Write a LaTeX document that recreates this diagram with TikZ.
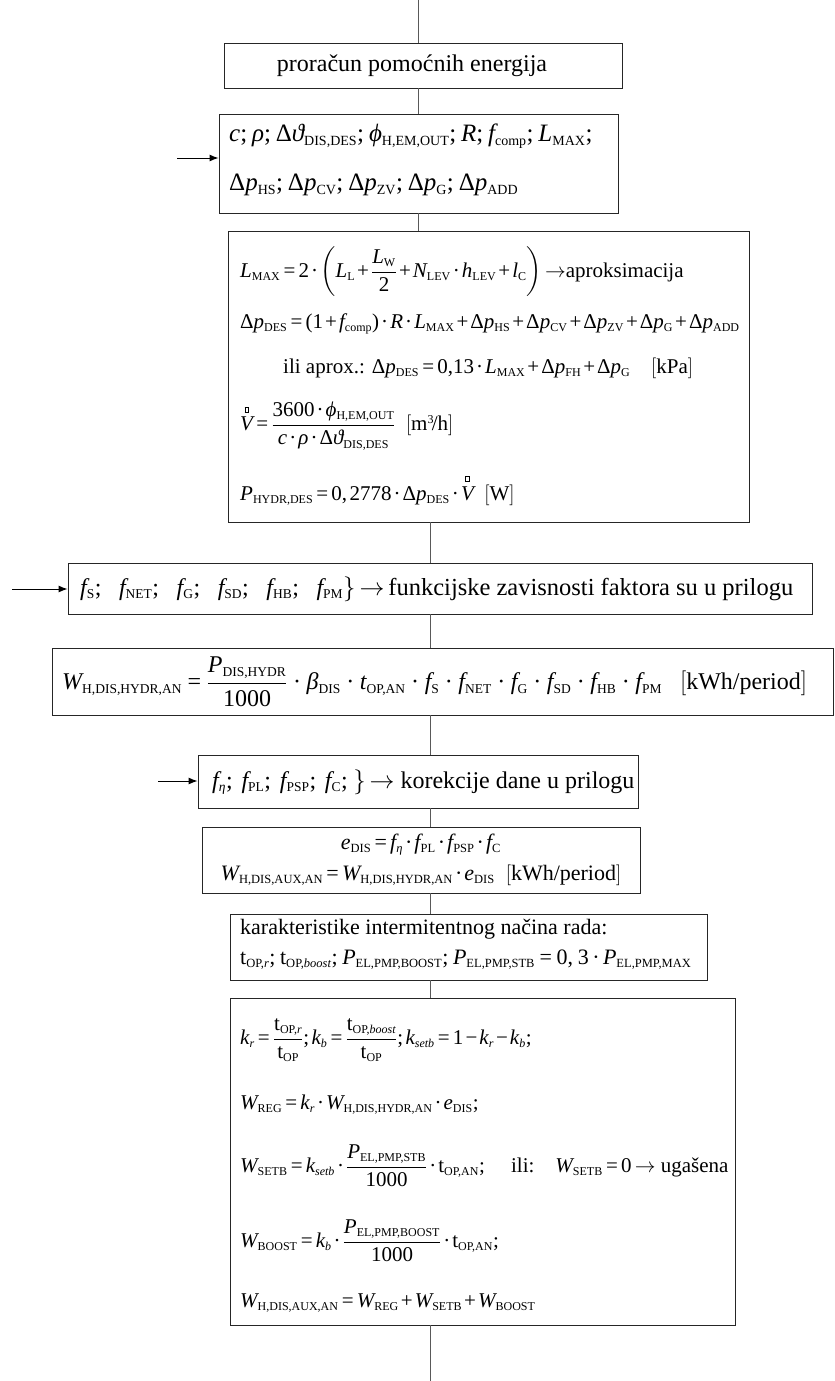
\documentclass[tikz,border=0pt]{standalone}
\usepackage{amsmath}
\usepackage{fontspec}
\setmainfont{Liberation Serif}
\usetikzlibrary{arrows.meta}
\DeclareMathSizes{25}{25}{14}{10}
\DeclareMathSizes{24}{24}{13.5}{10}
\DeclareMathSizes{22}{22}{12.5}{10}
\DeclareMathSizes{21}{21}{12}{9}
\DeclareSymbolFont{tletters}{TU}{\rmdefault}{m}{it}
\DeclareSymbolFont{tup}{TU}{\rmdefault}{m}{n}
\makeatletter
\newcommand{\setmymath}{%
\@tempcnta=`a
\loop\Umathcode\@tempcnta="7 \symtletters \@tempcnta \advance\@tempcnta by 1 \ifnum\@tempcnta<123 \repeat
\@tempcnta=`A
\loop\Umathcode\@tempcnta="7 \symtletters \@tempcnta \advance\@tempcnta by 1 \ifnum\@tempcnta<91 \repeat
\@tempcnta=`0
\loop\Umathcode\@tempcnta="7 \symtup \@tempcnta \advance\@tempcnta by 1 \ifnum\@tempcnta<58 \repeat
\Umathcode`\+="2 \symtup `\+
\Umathcode`\=="3 \symtup `\=
\Umathcode`\-="2 \symtup "2212
\Umathcode`\(="4 \symtup `\(
\Umathcode`\)="5 \symtup `\)
\Umathcode`\;="6 \symtup `\;
\Umathcode`\,="6 \symtup `\,
\Umathcode`\/="0 \symtup `\/
\Umathchardef\cdot="2 \symtup "00B7
\Umathchardef\Delta="0 \symtup "0394
\thinmuskip=2mu
\medmuskip=1.8mu plus 1mu minus 1mu
\thickmuskip=2.8mu plus 2mu
}
\makeatother
\Umathchardef\trho="0 \symtletters "03C1
\Umathchardef\tphi="0 \symtletters "03D5
\Umathchardef\ttheta="0 \symtletters "03D1
\Umathchardef\teta="0 \symtletters "03B7
\Umathchardef\tbeta="0 \symtletters "03B2
\newcommand{\sr}[1]{\text{#1}}
\newcommand{\fE}{\fontsize{25}{30}\selectfont}
\newcommand{\fA}{\fontsize{24}{30}\selectfont}
\newcommand{\fB}{\fontsize{22}{28}\selectfont}
\newcommand{\fC}{\fontsize{21}{26}\selectfont}
\newcommand{\Vbx}{\overset{\raisebox{1pt}{\setlength{\fboxsep}{0pt}\setlength{\fboxrule}{0.3pt}\fbox{\rule{0pt}{5pt}\rule{3.5pt}{0pt}}}}{V}}
\tikzset{
  boxst/.style={draw=black!85, line width=0.9pt, inner sep=0pt},
  txt/.style={inner sep=0pt, anchor=west, font=\fA},
  txte/.style={inner sep=0pt, anchor=west, font=\fE},
  txtb/.style={inner sep=0pt, anchor=west, font=\fB},
  txtc/.style={inner sep=0pt, anchor=west, font=\fC},
  ln/.style={draw=black!65, line width=0.9pt},
  arr/.style={-{Latex[length=9pt,width=7pt]}, line width=1pt}
}
\begin{document}
\setmymath
\begin{tikzpicture}[x=1pt,y=-1pt]
\useasboundingbox[fill=white] (0,0) rectangle (835,1381);
\coordinate (axA) at (418,0);
\coordinate (axB) at (430,0);
\coordinate (bot) at (430,1381);
% boxes
\node[boxst, minimum width=398pt, minimum height=45pt] (b1) at (423,65.5) {};
\node[boxst, minimum width=399pt, minimum height=99pt] (b2) at (418.5,163.5) {};
\node[boxst, minimum width=521pt, minimum height=291pt] (b3) at (488.5,376.5) {};
\node[boxst, minimum width=744pt, minimum height=51pt] (b4) at (440,588.5) {};
\node[boxst, minimum width=781pt, minimum height=67pt] (b5) at (442.5,681.5) {};
\node[boxst, minimum width=440pt, minimum height=53pt] (b6) at (418,781.5) {};
\node[boxst, minimum width=438pt, minimum height=66pt] (b7) at (421,860) {};
\node[boxst, minimum width=477pt, minimum height=66pt] (b8) at (468.5,947) {};
\node[boxst, minimum width=505pt, minimum height=327pt] (b9) at (482.5,1161.5) {};
% texts
\node[txt, anchor=center] (t1) at (412,66) {proračun pomoćnih energija};
\node[txte] (t2a) at (229,136) {\thinmuskip=3.5mu $c;\trho;\Delta\ttheta_{\sr{DIS,DES}};\tphi_{\sr{H,EM,OUT}};R;f_{\sr{comp}};L_{\sr{MAX}};$};
\node[txte] (t2b) at (229,185) {\thinmuskip=3.5mu $\Delta p_{\sr{HS}};\Delta p_{\sr{CV}};\Delta p_{\sr{ZV}};\Delta p_{\sr{G}};\Delta p_{\sr{ADD}}$};
\node[txtc] (t3a) at (240,272) {$L_{\sr{MAX}}=2\cdot\left(L_{\sr{L}}+\dfrac{L_{\sr{W}}}{2}+N_{\sr{LEV}}\cdot h_{\sr{LEV}}+l_{\sr{C}}\right)\rightarrow$aproksimacija};
\node[txtc] (t3b) at (240,324) {$\Delta p_{\sr{DES}}=(1+f_{\sr{comp}})\cdot R\cdot L_{\sr{MAX}}+\Delta p_{\sr{HS}}+\Delta p_{\sr{CV}}+\Delta p_{\sr{ZV}}+\Delta p_{\sr{G}}+\Delta p_{\sr{ADD}}$};
\node[txtc] (t3c) at (283,368) {ili aprox.: $\Delta p_{\sr{DES}}=0{,}13\cdot L_{\sr{MAX}}+\Delta p_{\sr{FH}}+\Delta p_{\sr{G}}$};
\node[txtc] (t3d) at (651,368) {$\bigl[\mathrm{kPa}\bigr]$};
\node[txtc] (t3e) at (240,426) {$\Vbx=\dfrac{3600\cdot\tphi_{\sr{H,EM,OUT}}}{c\cdot\trho\cdot\Delta\ttheta_{\sr{DIS,DES}}}\ \ \bigl[\mathrm{m}^3\!/\mathrm{h}\bigr]$};
\node[txtc] (t3f) at (240,490) {$P_{\sr{HYDR,DES}}=0,2778\cdot\Delta p_{\sr{DES}}\cdot\Vbx\ \ \bigl[\mathrm{W}\bigr]$};
\node[txt] (t4) at (80,589) {$f_{\sr{S}};\ \ \,f_{\sr{NET}};\ \ \,f_{\sr{G}};\ \ \,f_{\sr{SD}};\ \ \,f_{\sr{HB}};\ \ \,f_{\sr{PM}}\}\rightarrow$\,\fontsize{24.5}{30}\selectfont funkcijske zavisnosti faktora su u prilogu};
\node[txt] (t5) at (62,682) {\medmuskip=4mu\thickmuskip=4mu $W_{\sr{H,DIS,HYDR,AN}}=\dfrac{P_{\sr{DIS,HYDR}}}{1000}\cdot\tbeta_{\sr{DIS}}\cdot t_{\sr{OP,AN}}\cdot f_{\sr{S}}\cdot f_{\sr{NET}}\cdot f_{\sr{G}}\cdot f_{\sr{SD}}\cdot f_{\sr{HB}}\cdot f_{\sr{PM}}\ \ \ \bigl[\text{kWh/period}\bigr]$};
\node[txt] (t6) at (212,782) {$f_\teta;\ f_{\sr{PL}};\ f_{\sr{PSP}};\ f_{\sr{C}};\,\bigr\}\rightarrow$ korekcije dane u prilogu};
\node[txtb, anchor=center] (t7a) at (421,845) {$e_{\sr{DIS}}=f_\teta\cdot f_{\sr{PL}}\cdot f_{\sr{PSP}}\cdot f_{\sr{C}}$};
\node[txtb, anchor=center] (t7b) at (421,875) {$W_{\sr{H,DIS,AUX,AN}}=W_{\sr{H,DIS,HYDR,AN}}\cdot e_{\sr{DIS}}\ \ \bigl[\text{kWh/period}\bigr]$};
\node[txtb] (t8a) at (240,929) {karakteristike intermitentnog načina rada:};
\node[txtb] (t8b) at (240,960) {\thinmuskip=4mu\thickmuskip=4mu\medmuskip=3mu $\mathrm{t}_{\sr{OP,}r};\mathrm{t}_{\sr{OP,}\mathit{boost}};P_{\sr{EL,PMP,BOOST}};P_{\sr{EL,PMP,STB}}=0,3\cdot P_{\sr{EL,PMP,MAX}}$};
\node[txtc] (t9a) at (240,1040) {$k_r=\dfrac{\mathrm{t}_{\sr{OP,}r}}{\mathrm{t}_{\sr{OP}}};k_b=\dfrac{\mathrm{t}_{\sr{OP,}\mathit{boost}}}{\mathrm{t}_{\sr{OP}}};k_{setb}=1-k_r-k_b;$};
\node[txtc] (t9b) at (240,1105) {$W_{\sr{REG}}=k_r\cdot W_{\sr{H,DIS,HYDR,AN}}\cdot e_{\sr{DIS}};$};
\node[txtc] (t9c) at (240,1166) {$W_{\sr{SETB}}=k_{setb}\cdot\dfrac{P_{\sr{EL,PMP,STB}}}{1000}\cdot\mathrm{t}_{\sr{OP,AN}};\quad$ ili:\quad $W_{\sr{SETB}}=0\rightarrow$ ugašena};
\node[txtc] (t9d) at (240,1241) {$W_{\sr{BOOST}}=k_b\cdot\dfrac{P_{\sr{EL,PMP,BOOST}}}{1000}\cdot\mathrm{t}_{\sr{OP,AN}};$};
\node[txtc] (t9e) at (240,1303) {$W_{\sr{H,DIS,AUX,AN}}=W_{\sr{REG}}+W_{\sr{SETB}}+W_{\sr{BOOST}}$};
% connectors
\draw[ln] (axA) -- (axA |- b1.north);
\draw[ln] (b1.south -| axA) -- (b2.north -| axA);
\draw[ln] (b2.south -| axA) -- (b3.north -| axA);
\draw[ln] (b3.south -| axB) -- (b4.north -| axB);
\draw[ln] (b4.south -| axB) -- (b5.north -| axB);
\draw[ln] (b5.south -| axB) -- (b6.north -| axB);
\draw[ln] (b6.south -| axB) -- (b7.north -| axB);
\draw[ln] (b7.south -| axB) -- (b8.north -| axB);
\draw[ln] (b8.south -| axB) -- (b9.north -| axB);
\draw[ln] (b9.south -| axB) -- (bot);
% input arrows
\coordinate (in2) at (177,158);
\coordinate (in4) at (12,589);
\coordinate (in6) at (158,781);
\draw[arr] (in2) -- (in2 -| b2.west);
\draw[arr] (in4) -- (in4 -| b4.west);
\draw[arr] (in6) -- (in6 -| b6.west);
\end{tikzpicture}
\end{document}
